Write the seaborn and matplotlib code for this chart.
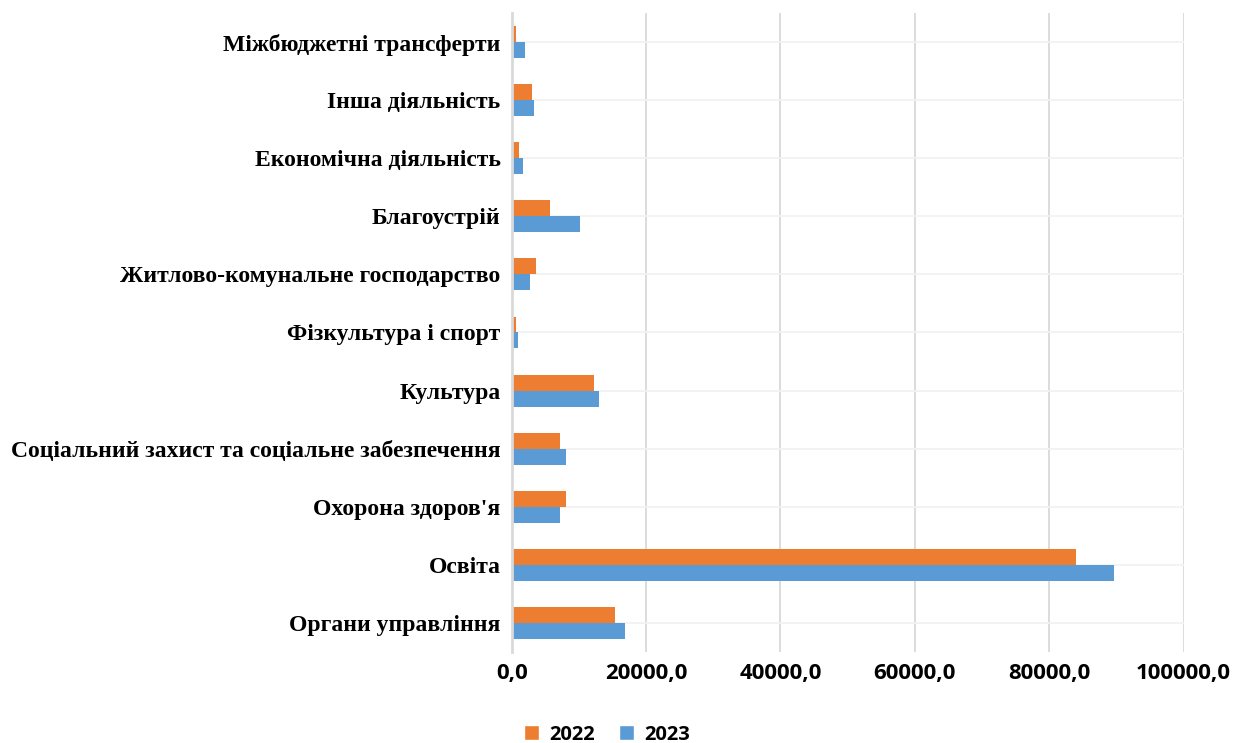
import pandas as pd
import numpy as np
import matplotlib.pyplot as plt
import seaborn as sns
from matplotlib.ticker import FuncFormatter
from matplotlib.patches import Patch

# --- data (thousand UAH) ---
categories = [
    'Міжбюджетні трансферти',
    'Інша діяльність',
    'Економічна діяльність',
    'Благоустрій',
    'Житлово-комунальне господарство',
    'Фізкультура і спорт',
    'Культура',
    'Соціальний захист та соціальне забезпечення',
    "Охорона здоров'я",
    'Освіта',
    'Органи управління',
]
values_2022 = [600, 2980, 1040, 5650, 3570, 600, 12240, 7160, 8060, 84000, 15370]
values_2023 = [1930, 3270, 1640, 10120, 2680, 890, 12990, 8060, 7160, 89700, 16870]
years = ['2022', '2023']
colors = ['#ED7D31', '#5B9BD5']

df = pd.DataFrame({
    'Категорія': categories * 2,
    'Рік': [years[0]] * len(categories) + [years[1]] * len(categories),
    'Сума': values_2022 + values_2023,
})

sns.set_style('white')

fig = plt.figure(figsize=(12.33, 7.43), dpi=100)
ax = fig.add_axes([0.415, 0.1225, 0.545, 0.86])

sns.barplot(data=df, y='Категорія', x='Сума', hue='Рік', order=categories,
            hue_order=years, palette=colors, width=0.55, orient='h',
            saturation=1, linewidth=0, ax=ax, legend=False)

ax.set_xlim(0, 100000)
ax.set_xticks(np.arange(0, 100001, 20000))
ax.xaxis.set_major_formatter(FuncFormatter(lambda v, p: f'{v:.1f}'.replace('.', ',')))
ax.set_xlabel('')
ax.set_ylabel('')

# grid lines like the Excel original
ax.grid(axis='x', color='#d9d9d9', linewidth=1.3)
ax.grid(axis='y', color='#f2f2f2', linewidth=1.3)
ax.set_axisbelow(True)
for s in ['top', 'right', 'bottom']:
    ax.spines[s].set_visible(False)
ax.spines['left'].set_color('#d9d9d9')
ax.spines['left'].set_linewidth(2)

ax.tick_params(axis='both', length=0, labelcolor='black')
ax.tick_params(axis='x', pad=8)
ax.tick_params(axis='y', pad=8)
for lbl in ax.get_yticklabels():
    lbl.set_fontfamily('Liberation Serif')
    lbl.set_fontweight('bold')
    lbl.set_fontsize(17)
for lbl in ax.get_xticklabels():
    lbl.set_fontfamily('Open Sans')
    lbl.set_fontweight('bold')
    lbl.set_fontsize(16)

handles = [Patch(facecolor=c, label=y) for c, y in zip(colors, years)]
leg = fig.legend(handles=handles, loc='center', bbox_to_anchor=(0.492, 0.011), ncol=2,
                 frameon=False, handlelength=0.75, handleheight=0.75, columnspacing=1.2,
                 handletextpad=0.5, prop={'family': 'Open Sans', 'weight': 'bold', 'size': 14.5})
for t in leg.get_texts():
    t.set_color('black')

fig.savefig('out.png', dpi=100)
